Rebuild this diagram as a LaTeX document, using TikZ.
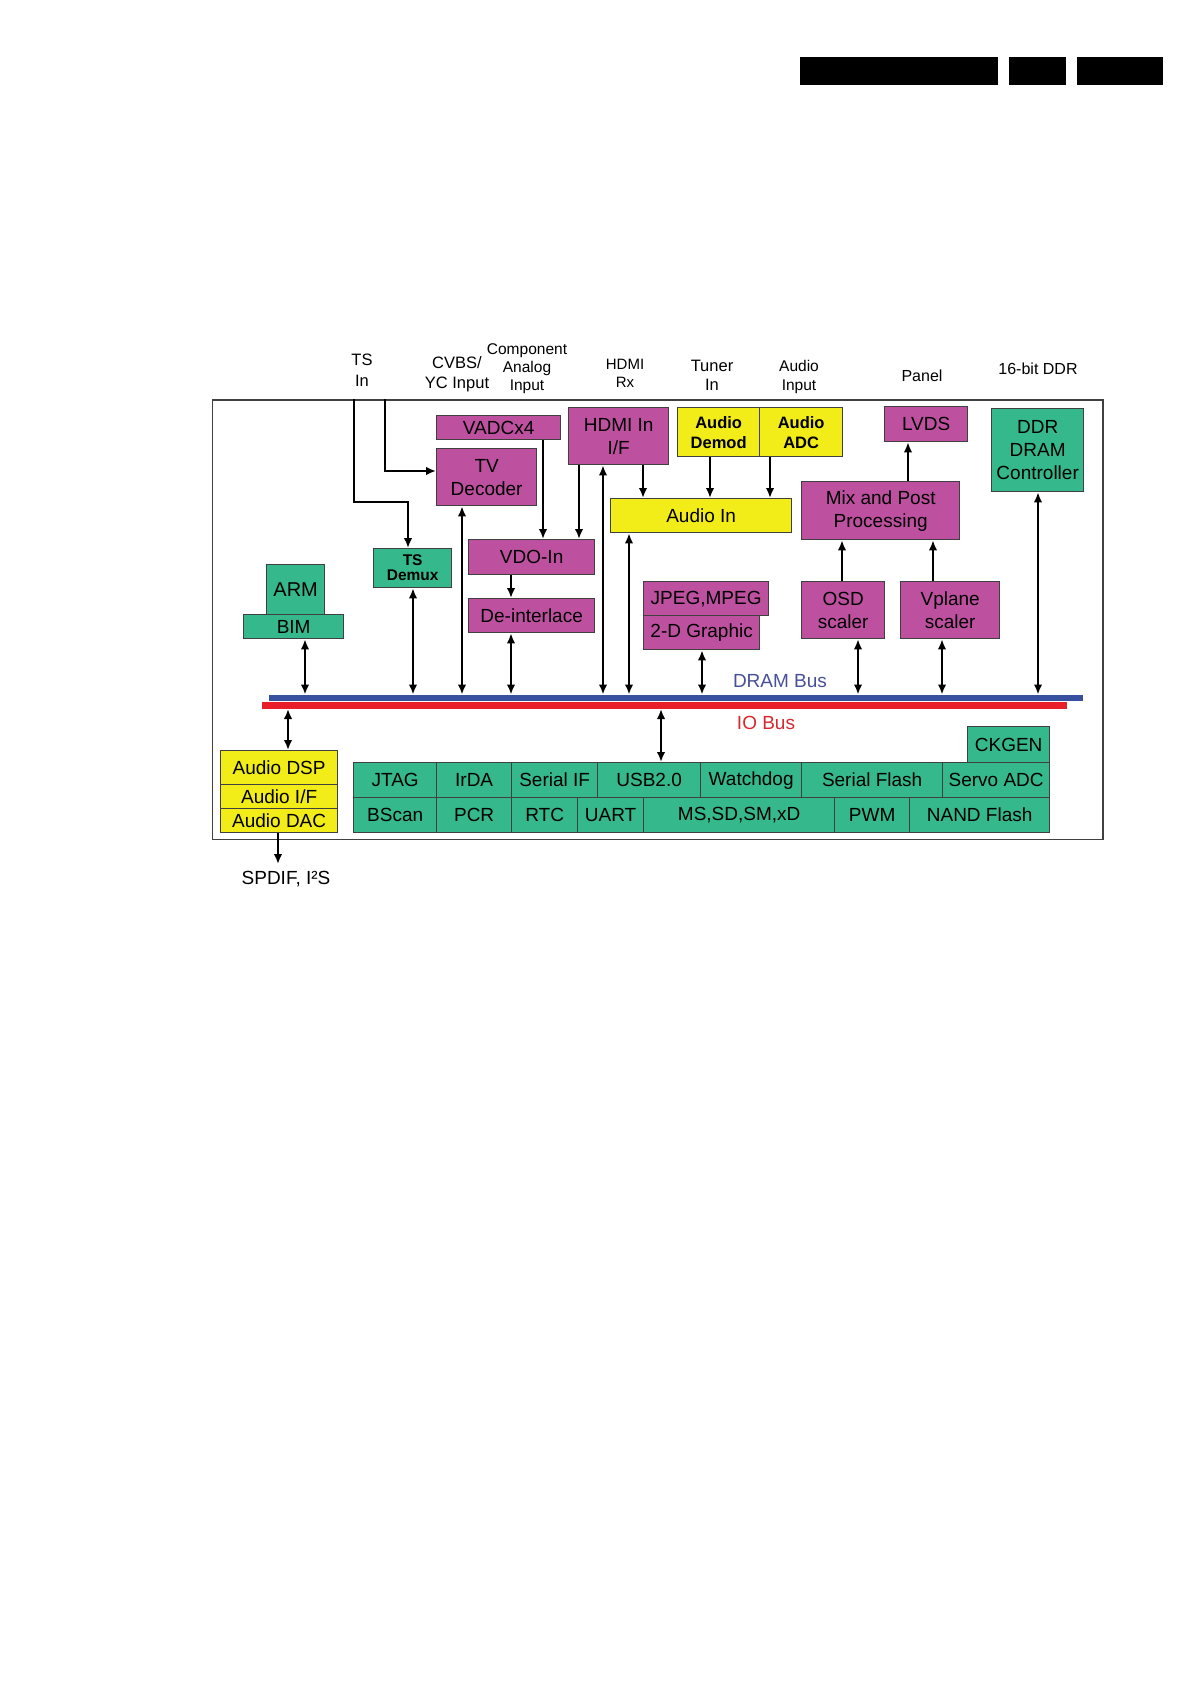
\documentclass[tikz,border=0pt]{standalone}
\usepackage{fontspec}
\setmainfont{Liberation Sans}
\usetikzlibrary{arrows.meta}
\definecolor{mag}{RGB}{190,80,160}
\definecolor{grn}{RGB}{52,184,140}
\definecolor{ylw}{RGB}{242,236,24}
\definecolor{busblue}{RGB}{55,80,160}
\definecolor{busred}{RGB}{232,30,40}
\definecolor{dramtxt}{RGB}{70,80,150}
\definecolor{iotxt}{RGB}{215,40,45}
\newcommand\bx[7]{\node[#1, minimum width={#5-#3}, minimum height={#6-#4}] (#2) at (#3,#4) {#7};}
\begin{document}
\begin{tikzpicture}[x=1pt,y=-1pt,
  box/.style={draw=black!75, line width=1.3pt, anchor=north west, inner sep=0pt, align=center,
    font=\fontsize{19}{23}\selectfont, text=black},
  magbox/.style={box, fill=mag},
  grnbox/.style={box, fill=grn},
  ylwbox/.style={box, fill=ylw},
  bus/.style={anchor=north west, inner sep=0pt, outer sep=0pt},
  lbl/.style={align=center, inner sep=0pt, text=black},
  >={Latex[length=10pt,width=8.5pt]},
  arr/.style={line width=2.2pt},
  tsarr/.style={line width=2.6pt}]
\useasboundingbox (0,0) rectangle (1192,1685);
% header bars
\fill[black] (800,57) rectangle (998,85);
\fill[black] (1009,57) rectangle (1066,85);
\fill[black] (1077,57) rectangle (1163,85);
% frame
\node[draw=black!75, line width=1.4pt, anchor=north west, inner sep=0pt, minimum width=890.6, minimum height=439.7] (frame) at (211.7,399.3) {};
% top labels
\node[lbl, font=\fontsize{16.5}{21}\selectfont] (tsl) at (362,370) {TS\\In};
\node[lbl, font=\fontsize{16.5}{20}\selectfont] (cvbsl) at (457,374) {CVBS/\\YC Input};
\node[lbl, font=\fontsize{15.5}{18}\selectfont] (compl) at (527,369) {Component\\Analog\\Input};
\node[lbl, font=\fontsize{15}{18}\selectfont] (hdmil) at (625,373) {HDMI\\Rx};
\node[lbl, font=\fontsize{16.5}{19}\selectfont] (tunerl) at (712,375.5) {Tuner\\In};
\node[lbl, font=\fontsize{15.5}{19}\selectfont] (audl) at (799,376.5) {Audio\\Input};
\node[lbl, font=\fontsize{16}{19}\selectfont] (panell) at (922,376) {Panel};
\node[lbl, font=\fontsize{16}{19}\selectfont] (ddrl) at (1038,369) {16-bit DDR};
% upper blocks
\bx{magbox}{vadc}{436}{415}{560}{439}{VADCx4}
\bx{magbox}{tvdec}{436}{448}{536}{505}{TV\\Decoder}
\bx{grnbox, font=\fontsize{15.5}{15}\selectfont\bfseries}{demux}{373}{548}{451}{587}{TS\\Demux}
\bx{grnbox, font=\fontsize{20}{23}\selectfont}{arm}{266}{564}{324}{614}{ARM}
\bx{grnbox}{bim}{243}{614}{343}{638}{BIM}
\bx{magbox}{vdo}{468}{539}{594}{574}{VDO-In}
\bx{magbox}{deint}{468}{598}{594}{632}{De-interlace}
\bx{magbox}{hdmi}{568}{407}{668}{464}{HDMI In\\I/F}
\bx{ylwbox, font=\fontsize{16.5}{20}\selectfont\bfseries}{ademod}{677}{407}{759}{456}{Audio\\Demod}
\bx{ylwbox, font=\fontsize{16.5}{20}\selectfont\bfseries}{aadc}{759}{407}{842}{456}{Audio\\ADC}
\bx{ylwbox}{ain}{610}{498}{791}{532}{Audio In}
\bx{magbox}{lvds}{884}{406}{967}{441}{LVDS}
\bx{magbox}{mix}{801}{481}{959}{539}{Mix and Post\\Processing}
\bx{grnbox}{ddr}{991}{408}{1083}{491}{DDR\\DRAM\\Controller}
\bx{magbox}{jpeg}{643}{581}{768}{615}{JPEG,MPEG}
\bx{magbox}{gfx}{643}{615}{759}{649}{2-D Graphic}
\bx{magbox}{osd}{801}{581}{884}{638}{OSD\\scaler}
\bx{magbox}{vpl}{900}{581}{999}{638}{Vplane\\scaler}
% buses
\node[bus, fill=busblue, minimum width=814, minimum height=6] (dram) at (269,694.5) {};
\node[bus, fill=busred, minimum width=805, minimum height=7] (io) at (262,702) {};
\node[lbl, text=dramtxt, font=\fontsize{19}{22}\selectfont] (dramlbl) at (780,681) {DRAM Bus};
\node[lbl, text=iotxt, font=\fontsize{19}{22}\selectfont] (iolbl) at (766,723) {IO Bus};
% audio output stack
\bx{ylwbox}{adsp}{220}{750}{337}{784}{Audio DSP}
\bx{ylwbox}{aif}{220}{784}{337}{808}{Audio I/F}
\bx{ylwbox}{adac}{220}{808}{337}{832}{Audio DAC}
\node[lbl, font=\fontsize{19}{22}\selectfont] (spdif) at (286,879) {SPDIF, I²S};
% IO grid
\bx{grnbox}{jtag}{353}{762}{436}{797}{JTAG}
\bx{grnbox}{irda}{436}{762}{511}{797}{IrDA}
\bx{grnbox}{serif}{511}{762}{597}{797}{Serial IF}
\bx{grnbox}{usb}{597}{762}{700}{797}{USB2.0}
\bx{grnbox}{wdog}{700}{762}{801}{797}{Watchdog}
\bx{grnbox}{sflash}{801}{762}{942}{797}{Serial Flash}
\bx{grnbox}{servo}{942}{762}{1049}{797}{Servo ADC}
\bx{grnbox}{bscan}{353}{797}{436}{832}{BScan}
\bx{grnbox}{pcr}{436}{797}{511}{832}{PCR}
\bx{grnbox}{rtc}{511}{797}{577}{832}{RTC}
\bx{grnbox}{uart}{577}{797}{643}{832}{UART}
\bx{grnbox}{ms}{643}{797}{834}{832}{MS,SD,SM,xD}
\bx{grnbox}{pwm}{834}{797}{909}{832}{PWM}
\bx{grnbox}{nand}{909}{797}{1049}{832}{NAND Flash}
\bx{grnbox}{ckgen}{967}{726}{1049}{762}{CKGEN}
% TS input lines
\draw[tsarr,->] (354,0 |- frame.north) -- (354,502) -- (408,502) -- (408,0 |- demux.north);
\draw[tsarr,->] (385,0 |- frame.north) -- (385,471) -- (tvdec.west |- 0,471);
% DRAM bus connections
\draw[arr,<->] (305,0 |- bim.south) -- (305,0 |- dram.north);
\draw[arr,<->] (413,0 |- demux.south) -- (413,0 |- dram.north);
\draw[arr,<->] (462,0 |- tvdec.south) -- (462,0 |- dram.north);
\draw[arr,<->] (511,0 |- deint.south) -- (511,0 |- dram.north);
\draw[arr,<->] (603,0 |- hdmi.south) -- (603,0 |- dram.north);
\draw[arr,<->] (629,0 |- ain.south) -- (629,0 |- dram.north);
\draw[arr,<->] (702,0 |- gfx.south) -- (702,0 |- dram.north);
\draw[arr,<->] (858,0 |- osd.south) -- (858,0 |- dram.north);
\draw[arr,<->] (942,0 |- vpl.south) -- (942,0 |- dram.north);
\draw[arr,<->] (1038,0 |- ddr.south) -- (1038,0 |- dram.north);
% internal flows
\draw[arr,->] (543,0 |- vadc.south) -- (543,0 |- vdo.north);
\draw[arr,->] (579,0 |- hdmi.south) -- (579,0 |- vdo.north);
\draw[arr,->] (511,0 |- vdo.south) -- (511,0 |- deint.north);
\draw[arr,->] (643,0 |- hdmi.south) -- (643,0 |- ain.north);
\draw[arr,->] (710,0 |- ademod.south) -- (710,0 |- ain.north);
\draw[arr,->] (770,0 |- aadc.south) -- (770,0 |- ain.north);
\draw[arr,->] (908,0 |- mix.north) -- (908,0 |- lvds.south);
\draw[arr,->] (842,0 |- osd.north) -- (842,0 |- mix.south);
\draw[arr,->] (933,0 |- vpl.north) -- (933,0 |- mix.south);
% IO bus connections
\draw[arr,<->] (288,0 |- io.south) -- (288,0 |- adsp.north);
\draw[arr,<->] (661,0 |- io.south) -- (661,0 |- usb.north);
\draw[arr,->] (278,0 |- adac.south) -- (278,864);
\end{tikzpicture}
\end{document}
